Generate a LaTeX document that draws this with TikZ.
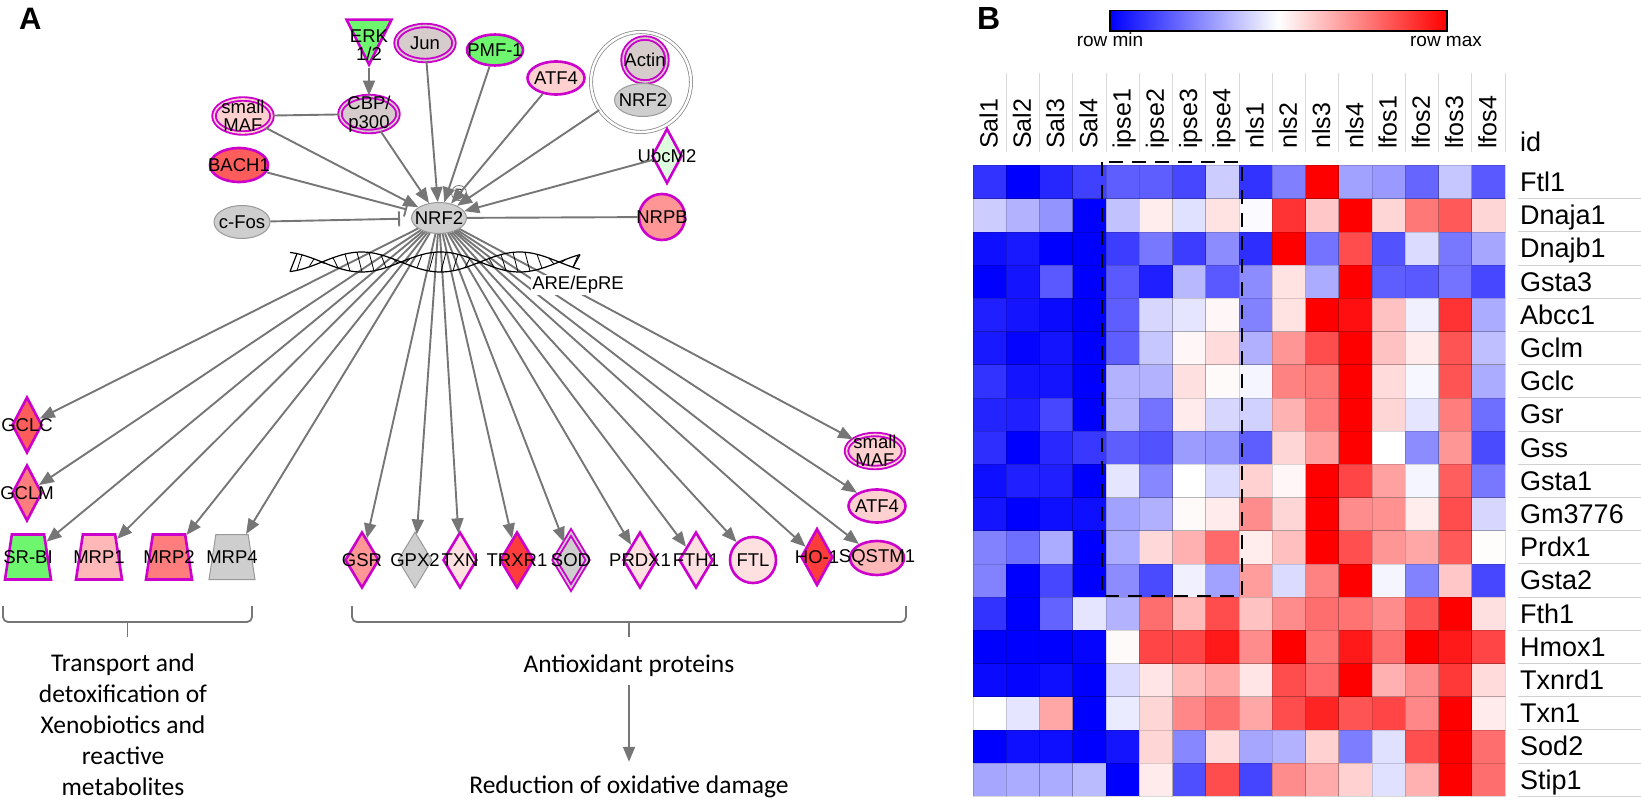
\documentclass[tikz,border=0pt]{standalone}
\usepackage{fontspec}
\setmainfont{Liberation Sans}
\newfontfamily\calibri{Carlito}
\usetikzlibrary{arrows.meta,shapes.geometric}
\definecolor{ipamag}{RGB}{204,0,204}
\definecolor{ipaedge}{RGB}{118,118,118}
\definecolor{ipagrey}{RGB}{206,206,206}
\definecolor{greypink}{RGB}{214,204,204}
\definecolor{ipagreen}{RGB}{110,246,110}
\definecolor{palegreen}{RGB}{222,252,222}
\definecolor{up1}{RGB}{255,224,224}
\definecolor{up2}{RGB}{255,208,208}
\definecolor{up3}{RGB}{255,184,184}
\definecolor{up4}{RGB}{255,150,150}
\definecolor{up5}{RGB}{255,125,125}
\definecolor{up6}{RGB}{255,92,92}
\definecolor{up7}{RGB}{255,60,60}
\newcommand\genefont{\fontsize{18.5}{18.5}\selectfont}

\begin{document}
\begin{tikzpicture}[x=1pt,y=-1pt,->,>={Triangle[length=15pt,width=12pt]},
	mol/.style={draw=ipamag,line width=2.6pt,fill=#1,inner sep=0pt},
	dmol/.style={draw=ipamag,line width=1.9pt,double=#1,double distance=1.6pt,fill=#1,inner sep=0pt},
	gmol/.style={draw=black!40,line width=1pt,fill=ipagrey,inner sep=0pt},
	oval/.style={ellipse,minimum width=57pt,minimum height=33pt},
	dia/.style={diamond,minimum width=#1,minimum height=56pt},dia/.default=34pt,
	trap/.style={trapezium,trapezium stretches=true,trapezium left angle=78,trapezium right angle=78,minimum width=46pt,minimum height=45pt,inner sep=2pt},
	ball/.style={circle,minimum size=46pt},
	link/.style={draw=ipaedge,line width=1.9pt},
	every label/.style={font=\genefont,align=center,inner sep=0pt},
	cell/.style={fill=#1,draw=black,draw opacity=0.15,line width=0.6pt}]
	\useasboundingbox (0,0) rectangle (1641,802);

	% panel A
	\node[anchor=base west,inner sep=0pt,font=\fontsize{31}{31}\selectfont\bfseries] (pA) at (19,30) {A};

	% regulators of NRF2
	\node[mol=ipagreen,isosceles triangle,isosceles triangle stretches,shape border rotate=-90,minimum width=45pt,minimum height=45pt,anchor=apex] (erk) at (369,68) {};
	\node[font=\genefont,align=center,inner sep=0pt] (erktxt) at (369,45) {ERK\\1/2};
	\node[dmol=greypink,oval,minimum width=58pt,minimum height=35pt,label=center:Jun] (jun) at (425,43) {};
	\node[mol=ipagreen,oval,minimum width=56pt,minimum height=31pt,label=center:PMF-1] (pmf) at (495,50) {};
	\node[mol=up2,oval,label=center:ATF4] (atf4) at (556,78) {};
	\node[draw=black!45,line width=0.8pt,double=white,double distance=2.4pt,circle,minimum size=100pt,inner sep=0pt] (cplx) at (641,82) {};
	\node[dmol=greypink,ball,minimum size=44pt,label=center:Actin] (actin) at (645,60) {};
	\node[gmol,oval,label=center:NRF2] (nrf2b) at (643,100) {};
	\node[dmol=up2,oval,minimum width=58pt,minimum height=34pt,label={center:small\\MAF}] (smaf) at (243,116) {};
	\node[dmol=greypink,oval,minimum width=58pt,minimum height=35pt,label={center:CBP/\\p300}] (cbp) at (369,114) {};
	\node[mol=up6,oval,minimum width=58pt,minimum height=34pt,label=center:BACH1] (bach1) at (239,165) {};
	\node[gmol,oval,minimum width=56pt,label=center:c-Fos] (cfos) at (242,222) {};
	\node[gmol,oval,minimum width=55pt,minimum height=31pt,label=center:NRF2] (nrf2) at (439,218) {};
	\node[mol=palegreen,dia=30pt,minimum height=55pt,label=center:UbcM2] (ubcm2) at (667,156) {};
	\node[mol=up4,ball,label=center:NRPB] (nrpb) at (662,217) {};
	\node[circle,draw=ipaedge,line width=0.8pt,minimum size=15pt,inner sep=0pt,font=\fontsize{12}{12}\selectfont] (phos) at (459,193) {P};

	% targets of NRF2
	\node[mol=up6,dia=30pt,label=center:GCLC] (gclc) at (27,425) {};
	\node[mol=up5,dia=30pt,label=center:GCLM] (gclm) at (27,493) {};
	\node[mol=ipagreen,trap,label=center:SR-BI] (srbi) at (28,557) {};
	\node[mol=up3,trap,label=center:MRP1] (mrp1) at (99,557) {};
	\node[mol=up5,trap,label=center:MRP2] (mrp2) at (169,557) {};
	\node[gmol,trap,label=center:MRP4] (mrp4) at (232,557) {};
	\node[mol=up4,dia,label=center:GSR] (gsr) at (362,560) {};
	\node[gmol,dia,label=center:GPX2] (gpx2) at (415,560) {};
	\node[mol=up1,dia,label=center:TXN] (txn) at (460,560) {};
	\node[mol=up7,dia,label=center:TRXR1] (trxr1) at (517,560) {};
	\node[dmol=ipagrey,dia,label=center:SOD] (sod) at (571,560) {};
	\node[mol=up1,dia,label=center:PRDX1] (prdx1) at (640,560) {};
	\node[mol=up1,dia,label=center:FTH1] (fth1) at (696,560) {};
	\node[mol=up1,ball,label=center:FTL] (ftl) at (753,560) {};
	\node[mol=up7,dia=32pt,minimum height=57pt,label=center:HO-1] (ho1) at (817,557) {};
	\node[mol=up3,oval,minimum width=54pt,minimum height=34pt,label=center:SQSTM1] (sqstm1) at (877,558) {};
	\node[mol=up2,oval,label=center:ATF4] (atf4b) at (877,506) {};
	\node[dmol=up2,oval,label={center:small\\MAF}] (smafb) at (875,451) {};

	\draw[link] (erk) -- (cbp);
	\draw[link,-] (smaf) -- (cbp);
	\foreach \src in {smaf,cbp,jun,pmf,atf4,cplx,ubcm2}
		\draw[link] (\src) -- (nrf2);
	\draw[link,-] (nrpb) -- (nrf2);
	\draw[link,-{Bar[width=15pt]},shorten >=7pt] (bach1) -- (nrf2);
	\draw[link,-{Bar[width=15pt]},shorten >=11pt] (cfos) -- (nrf2);
	\foreach \dst in {gclc,gclm,srbi,mrp1,mrp2,mrp4,gsr,gpx2,txn,trxr1,sod,prdx1,fth1,ftl,ho1,sqstm1,atf4b,smafb}
		\draw[link] (nrf2) -- (\dst);

	% DNA
	\draw[-,line width=1.2pt] plot[domain=290:580,samples=100] (\x,{262+10*cos(90+(\x-322)*2.278)});
	\draw[-,line width=1.2pt] plot[domain=290:580,samples=100] (\x,{262-10*cos(90+(\x-322)*2.278)});
	\foreach \h in {297,309,...,573}
		\draw[-,line width=0.8pt] (\h,{262+10*cos(90+(\h-322)*2.278)}) -- ({\h+5},{262-10*cos(90+(\h-317)*2.278)});
	\draw[-,line width=1.2pt] (290,{262+10*cos(90-32*2.278)}) -- (297,{262-10*cos(90-25*2.278)});
	\draw[-,line width=1.2pt] (580,{262-10*cos(90+258*2.278)}) -- (573,{262+10*cos(90+251*2.278)});
	\node[fill=white,inner sep=1pt,font=\genefont] (are) at (578,285) {ARE/EpRE};

	% groups
	\draw[-,draw=ipaedge,line width=1.8pt,rounded corners=5pt] (3,606) -- (3,622) -- (252,622) -- (252,606);
	\draw[-,draw=ipaedge,line width=1.8pt] (127.5,622) -- (127.5,637);
	\draw[-,draw=ipaedge,line width=1.8pt,rounded corners=5pt] (352,606) -- (352,622) -- (906,622) -- (906,606);
	\draw[-,draw=ipaedge,line width=1.8pt] (629,622) -- (629,637);
	\node[font=\calibri\fontsize{25.5}{31}\selectfont,align=center] (xeno) at (123,725) {Transport and\\detoxification of\\Xenobiotics and\\reactive\\metabolites};
	\node[font=\calibri\fontsize{25.5}{30}\selectfont,anchor=base] (anti) at (629,672) {Antioxidant proteins};
	\node[font=\calibri\fontsize{25.5}{30}\selectfont,anchor=base] (redox) at (629,793) {Reduction of oxidative damage};
	\draw[link,shorten <=5pt,shorten >=10pt] (anti) -- (redox);

	% panel B
	\node[anchor=base west,inner sep=0pt,font=\fontsize{32}{32}\selectfont\bfseries] (pB) at (977,30) {B};
	\shade[left color=blue,right color=red,middle color=white] (1110,10.5) rectangle (1447,31);
	\draw[-,line width=1.2pt] (1110,10.5) rectangle (1447,31);
	\node[anchor=base,inner sep=0pt,font=\fontsize{19}{19}\selectfont] (rmin) at (1110,47) {row min};
	\node[anchor=base,inner sep=0pt,font=\fontsize{19}{19}\selectfont] (rmax) at (1446,47) {row max};

	\foreach \name [count=\c from 0] in {Sal1,Sal2,Sal3,Sal4,ipse1,ipse2,ipse3,ipse4,nls1,nls2,nls3,nls4,lfos1,lfos2,lfos3,lfos4} {
		\node[rotate=90,anchor=base west,inner sep=0pt,font=\fontsize{25}{25}\selectfont] at (973+33.25*\c+24.5,149) {\name};
		\draw[-,black!15,line width=1pt] (973+33.25*\c+33.25,73) -- ++(0,79);
	}
	\node[anchor=base west,inner sep=0pt,font=\fontsize{27}{27}\selectfont] (id) at (1520,152) {id};

	\foreach \vals [count=\r from 0] in {
		{-80,-100,-85,-75,-63,-63,-72,-20,-80,-50,100,-37,-40,-60,-22,-65},
		{-20,-30,-42,-100,-24,7,-12,11,-2,80,22,100,16,53,65,16},
		{-94,-90,-100,-100,-76,-53,-76,-45,-82,100,-55,70,-68,-14,-53,-35},
		{-100,-92,-65,-100,-65,-88,-28,-65,-45,11,-33,100,-63,-65,-55,-72},
		{-88,-92,-96,-100,-63,-16,-10,3,-49,11,100,94,24,-6,80,-33},
		{-90,-98,-92,-100,-63,-22,3,14,-31,41,70,100,24,8,67,-25},
		{-80,-92,-92,-100,-30,-30,12,2,-4,49,53,100,14,-3,67,-33},
		{-86,-88,-72,-100,-30,-55,8,-16,-18,30,51,100,16,-10,51,-57},
		{-82,-100,-84,-78,-63,-68,-39,-41,-63,16,37,100,0,-45,41,-71},
		{-94,-88,-88,-100,-10,-47,0,-14,18,3,100,73,37,-4,63,-53},
		{-92,-100,-94,-94,-37,-31,2,8,45,16,100,45,43,7,70,-16},
		{-49,-57,-33,-100,-33,15,31,59,7,25,100,69,41,35,65,1},
		{-49,-100,-72,-100,-45,-71,-6,-37,39,-14,49,100,-4,-49,22,-72},
		{-80,-100,-61,-10,-30,57,27,70,24,45,57,55,45,67,100,12},
		{-100,-100,-100,-98,2,73,73,90,45,100,55,90,57,100,90,73},
		{-96,-98,-94,-100,-14,10,27,35,10,70,59,100,31,45,78,14},
		{0,-10,35,-100,-8,16,47,57,35,70,86,67,73,47,100,8},
		{-100,-94,-94,-100,-92,16,-47,14,-35,-30,18,-51,-12,69,100,57},
		{-35,-33,-33,-27,-100,8,-69,70,-73,45,33,18,-12,31,100,57}} {
		\foreach \v [count=\c from 0] in \vals {
			\pgfmathtruncatemacro\p{abs(\v)}
			\ifnum\v<0 \def\hue{blue}\else\def\hue{red}\fi
			\path[cell=\hue!\p!white] (973+33.25*\c,165.5+33.2*\r) rectangle ++(33.25,33.2);
		}
	}
	\foreach \gene [count=\r from 0] in {Ftl1,Dnaja1,Dnajb1,Gsta3,Abcc1,Gclm,Gclc,Gsr,Gss,Gsta1,Gm3776,Prdx1,Gsta2,Fth1,Hmox1,Txnrd1,Txn1,Sod2,Stip1} {
		\node[anchor=base west,inner sep=0pt,font=\fontsize{27}{27}\selectfont] at (1520,165.5+33.2*\r+26) {\gene};
		\draw[-,black!18,line width=1pt] (1518,165.5+33.2*\r+33.2) -- (1641,165.5+33.2*\r+33.2);
	}
	\draw[-,line width=2.6pt,dash pattern=on 14pt off 9pt] (1102,162) rectangle (1242,596);
\end{tikzpicture}
\end{document}
